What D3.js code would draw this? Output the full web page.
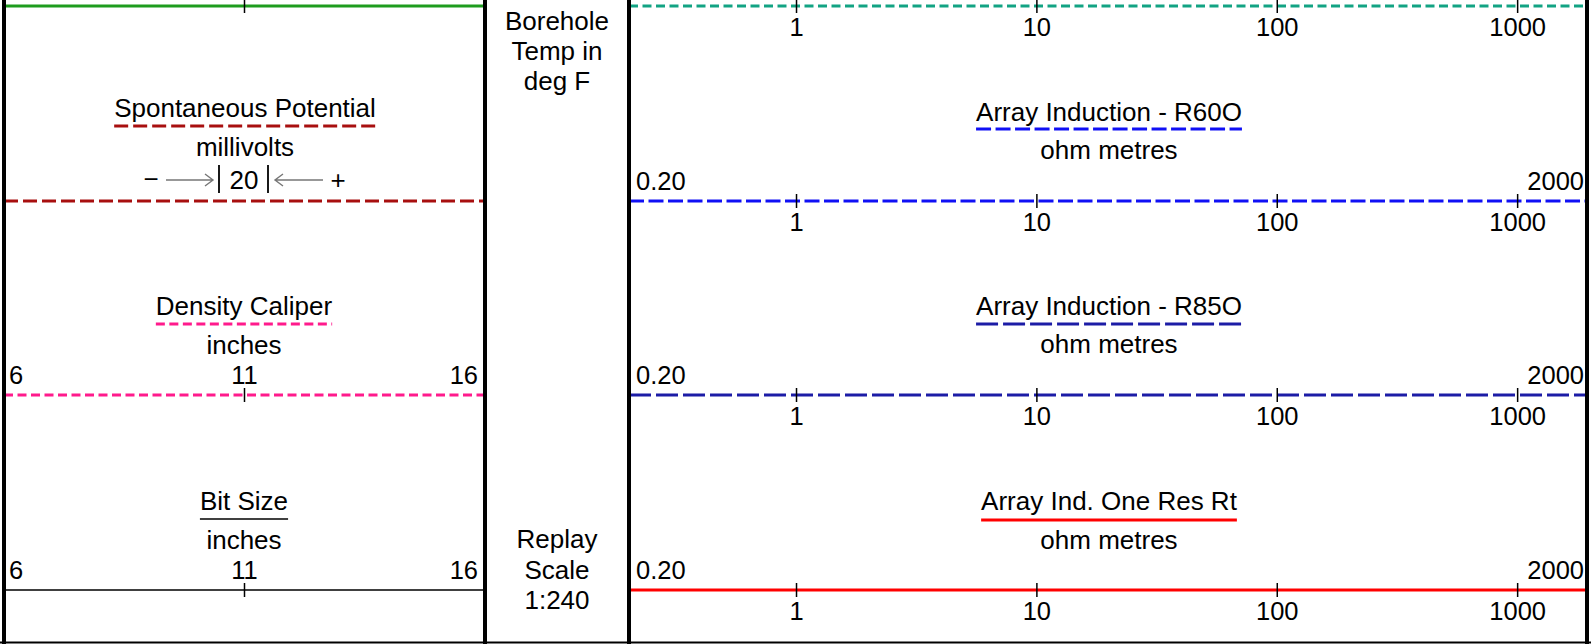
<!DOCTYPE html>
<html>
<head>
<meta charset="utf-8">
<script src="https://cdn.jsdelivr.net/npm/d3@7"></script>
<style>
  html, body { margin: 0; padding: 0; background: #fff; }
  svg { display: block; }
  text { font-family: "Liberation Sans", Arial, Helvetica, sans-serif; fill: #000; }
</style>
</head>
<body>
<svg id="chart" width="1591" height="644"></svg>
<script>
// ---------------- data ----------------
const leftTitles   = ["Spontaneous Potential", "Density Caliper", "Bit Size"];
const leftUnits    = ["millivolts", "inches", "inches"];
const caliperDomain = [6, 16];
const caliperTicks  = [6, 11, 16];
const spDivision    = 20;           // millivolts per division
const middleTop     = ["Borehole", "Temp in", "deg F"];
const middleBottom  = ["Replay", "Scale", "1:240"];
const resTitles     = ["Array Induction - R60O", "Array Induction - R85O", "Array Ind. One Res Rt"];
const resUnits      = ["ohm metres", "ohm metres", "ohm metres"];
const resDomain     = [0.2, 2000];
const resEndLabels  = ["0.20", "2000"];
const resTicks      = [1, 10, 100, 1000];

// ---------------- layout / styles ----------------
const W = 1591, H = 644;
const svg = d3.select("#chart");
const T1 = [4, 485], T2 = [485, 629], T3 = [629, 1587];
const rowY = [6, 201, 395, 590];

const xCal = d3.scaleLinear().domain(caliperDomain).range([4, 485]);
const xRes = d3.scaleLog().domain(resDomain).range([628.5, 1590]);

const leftStyles = [
  { color: "#a80f0f", dash: "14,5", width: 3 },
  { color: "#ff1a8c", dash: "9,4.5", width: 3 },
  { color: "#000000", dash: null, width: 1.6 }
];
const resStyles = [
  { color: "#1010f5", dash: "15,4.5", width: 3 },
  { color: "#1c1ca6", dash: "22,5", width: 3 },
  { color: "#ff0000", dash: null, width: 3 }
];
const titleSize = 26, tickSize = 25.5;

function hline(g, x0, x1, y, st) {
  g.append("line").attr("x1", x0).attr("x2", x1).attr("y1", y).attr("y2", y)
    .attr("stroke", st.color).attr("stroke-width", st.width)
    .attr("stroke-dasharray", st.dash);
}
function ticksAt(g, xs, scale, y) {
  g.selectAll(null).data(xs).enter().append("line")
    .attr("x1", d => scale(d)).attr("x2", d => scale(d))
    .attr("y1", y - 7).attr("y2", y + 7)
    .attr("stroke", "#000").attr("stroke-width", 1.5);
}
function titleBlock(g, cx, title, unit, yTitle, yUnderline, yUnit, st) {
  const t = g.append("text").attr("x", cx).attr("y", yTitle)
    .attr("text-anchor", "middle").attr("font-size", titleSize).text(title);
  const w = t.node().getComputedTextLength();
  hline(g, cx - w / 2, cx + w / 2, yUnderline, st);
  if (unit) g.append("text").attr("x", cx).attr("y", yUnit)
    .attr("text-anchor", "middle").attr("font-size", titleSize).text(unit);
}

// ---------------- track 1 ----------------
const g1 = svg.append("g");
// curve line above (cut off at the top)
hline(g1, T1[0], T1[1], rowY[0], { color: "#1e9c1e", dash: null, width: 3 });
ticksAt(g1, [caliperTicks[1]], xCal, rowY[0]);

// Spontaneous Potential
titleBlock(g1, 245, leftTitles[0], leftUnits[0], 117, 126, 156, leftStyles[0]);
hline(g1, T1[0], T1[1], rowY[1], leftStyles[0]);
// - --> | 20 | <-- +
const ay = 180;
g1.append("text").attr("x", 151).attr("y", ay + 8).attr("text-anchor", "middle")
  .attr("font-size", titleSize).text("\u2212");
g1.append("text").attr("x", 338).attr("y", ay + 9).attr("text-anchor", "middle")
  .attr("font-size", titleSize).text("+");
g1.append("text").attr("x", 244).attr("y", ay + 9).attr("text-anchor", "middle")
  .attr("font-size", titleSize).text(spDivision);
[219, 268].forEach(x => g1.append("line").attr("x1", x).attr("x2", x)
  .attr("y1", ay - 15).attr("y2", ay + 13).attr("stroke", "#000").attr("stroke-width", 1.8));
g1.append("path").attr("d", `M166,${ay}H213M205,${ay - 6}L213,${ay}L205,${ay + 6}`)
  .attr("fill", "none").attr("stroke", "#777").attr("stroke-width", 1.4);
g1.append("path").attr("d", `M323,${ay}H275M283,${ay - 6}L275,${ay}L283,${ay + 6}`)
  .attr("fill", "none").attr("stroke", "#777").attr("stroke-width", 1.4);

// Density Caliper & Bit Size
[[1, 315, 324, 354, rowY[2]], [2, 510, 519, 549, rowY[3]]].forEach(([i, yt, yu, yn, ly]) => {
  titleBlock(g1, 244, leftTitles[i], leftUnits[i], yt, yu, yn, leftStyles[i]);
  g1.selectAll(null).data(caliperTicks).enter().append("text")
    .attr("x", (d, k) => k === 0 ? 9 : k === 2 ? 478 : xCal(d))
    .attr("y", ly - 11)
    .attr("text-anchor", (d, k) => k === 0 ? "start" : k === 2 ? "end" : "middle")
    .attr("font-size", tickSize).text(d => d);
  hline(g1, T1[0], T1[1], ly, leftStyles[i]);
  ticksAt(g1, [caliperTicks[1]], xCal, ly);
});

// ---------------- track 2 ----------------
const g2 = svg.append("g");
const c2 = (T2[0] + T2[1]) / 2;
g2.selectAll(null).data(middleTop).enter().append("text")
  .attr("x", c2).attr("y", (d, i) => 29.5 + i * 30).attr("text-anchor", "middle")
  .attr("font-size", titleSize).text(d => d);
g2.selectAll(null).data(middleBottom).enter().append("text")
  .attr("x", c2).attr("y", (d, i) => 548 + i * 30.5).attr("text-anchor", "middle")
  .attr("font-size", titleSize).text(d => d);

// ---------------- track 3 ----------------
const g3 = svg.append("g");
const c3 = 1109;
function resAxisLabels(ly) {
  g3.selectAll(null).data(resTicks).enter().append("text")
    .attr("x", d => xRes(d)).attr("y", ly + 30).attr("text-anchor", "middle")
    .attr("font-size", tickSize).text(d => d);
}
// curve above (cut off)
hline(g3, T3[0], T3[1], rowY[0], { color: "#12a383", dash: "9,4.5", width: 3 });
ticksAt(g3, resTicks, xRes, rowY[0]);
resAxisLabels(rowY[0]);

const resTitleY = [[121, 129, 159], [315, 324, 353], [510, 520, 549]];
resTitles.forEach((t, i) => {
  const ly = rowY[i + 1];
  titleBlock(g3, c3, t, resUnits[i], resTitleY[i][0], resTitleY[i][1], resTitleY[i][2], resStyles[i]);
  g3.append("text").attr("x", 636).attr("y", ly - 11).attr("font-size", tickSize).text(resEndLabels[0]);
  g3.append("text").attr("x", 1584).attr("y", ly - 11).attr("text-anchor", "end")
    .attr("font-size", tickSize).text(resEndLabels[1]);
  hline(g3, T3[0], T3[1], ly, resStyles[i]);
  ticksAt(g3, resTicks, xRes, ly);
  resAxisLabels(ly);
});

// ---------------- borders ----------------
const gb = svg.append("g");
[T1[0], T1[1], T2[1], T3[1]].forEach(x => gb.append("line")
  .attr("x1", x).attr("x2", x).attr("y1", 0).attr("y2", H)
  .attr("stroke", "#000").attr("stroke-width", 4));
gb.append("line").attr("x1", 0).attr("x2", W).attr("y1", 642.5).attr("y2", 642.5)
  .attr("stroke", "#000").attr("stroke-width", 2);
</script>
</body>
</html>
